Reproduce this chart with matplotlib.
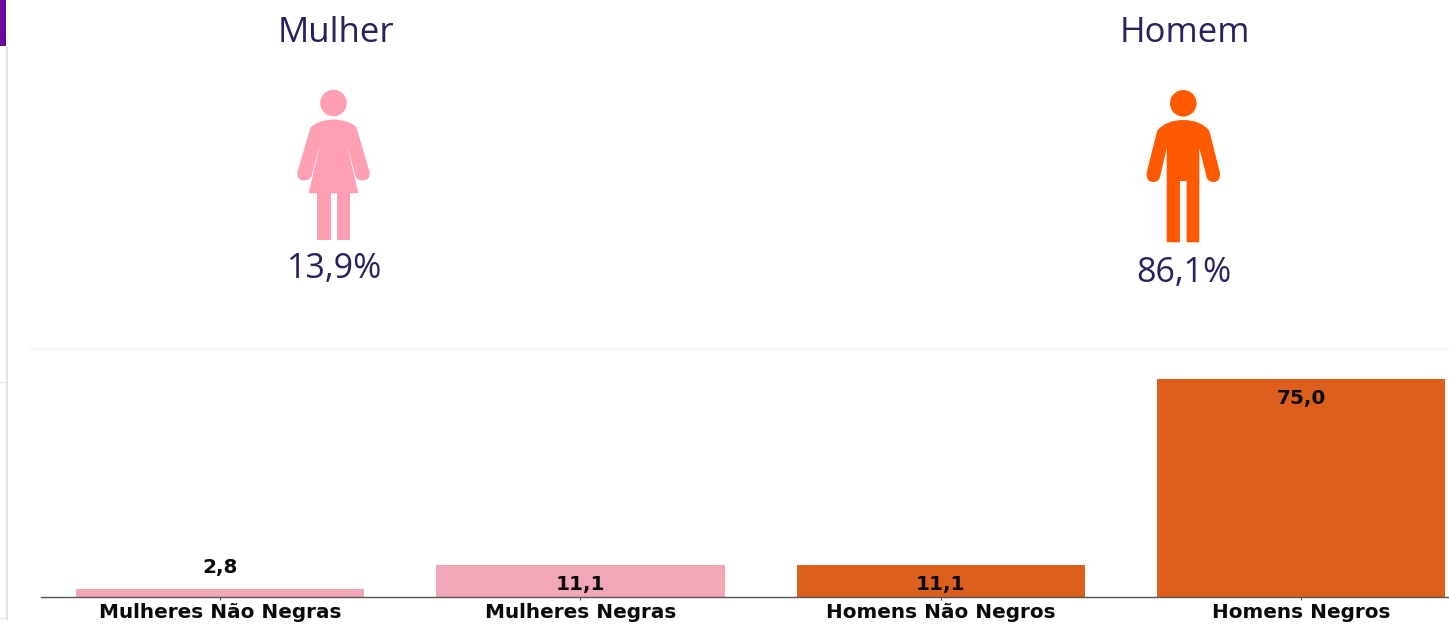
import matplotlib
matplotlib.use("Agg")
import matplotlib.pyplot as plt
from matplotlib.path import Path
from matplotlib.patches import PathPatch, Circle, Rectangle

W, H = 1449, 630

# dados
categorias = ["Mulheres Não Negras", "Mulheres Negras", "Homens Não Negros", "Homens Negros"]
valores = [2.8, 11.1, 11.1, 75.0]
cores_barras = ["#f2a7b8", "#f2a7b8", "#dc5f1e", "#dc5f1e"]
generos = ["Mulher", "Homem"]
percentuais = ["13,9%", "86,1%"]

ROXO = "#2d1f5c"
ROSA = "#ff9fb3"
LARANJA = "#ff5a00"

fig = plt.figure(figsize=(W / 100, H / 100), dpi=100, facecolor="white")

# camada de fundo em pixels: barra lateral, icones e textos de cima
bg = fig.add_axes([0, 0, 1, 1])
bg.set_xlim(0, W)
bg.set_ylim(H, 0)
bg.axis("off")

bg.add_patch(Rectangle((0, 0), 6, 46, color="#6a0a9c", lw=0))
bg.add_patch(Rectangle((6, 46), 1.6, 574, color="#e2e2e2", lw=0))
bg.add_patch(Rectangle((0, 382), 6, 1.4, color="#e2e2e2", lw=0))
bg.add_patch(Rectangle((0, 618), 6, 1.4, color="#e8e8e8", lw=0))
bg.add_patch(Rectangle((30, 348), W - 30, 3, color="#f8f8f8", lw=0))


def corpo(pontos):
    # pontos: (x, y, tipo), tipo "L" reta, "C" ponto de controle de curva
    verts = []
    codes = []
    for i, (x, y, t) in enumerate(pontos):
        verts.append((x, y))
        if i == 0:
            codes.append(Path.MOVETO)
        elif t == "C":
            codes.append(Path.CURVE3)
        elif pontos[i - 1][2] == "C":
            codes.append(Path.CURVE3)
        else:
            codes.append(Path.LINETO)
    verts.append(verts[0])
    codes.append(Path.CLOSEPOLY)
    return Path(verts, codes)


def mulher(cx, cor):
    # coordenadas relativas ao centro da figura, em pixels
    bg.add_patch(Circle((cx, 103), 13.3, color=cor, lw=0))
    pts = [(0, 119.5, "L"), (-16, 120, "C"), (-23, 127.5, "L"), (-36, 171.5, "L"),
           (-37.5, 180.5, "C"), (-29, 180.5, "L"), (-23.5, 180.5, "C"), (-22, 176, "L"),
           (-12.5, 141.5, "L"), (-25, 193.3, "L"), (25, 193.3, "L"), (12.5, 141.5, "L"),
           (22, 176, "L"), (23.5, 180.5, "C"), (29, 180.5, "L"), (37.5, 180.5, "C"),
           (36, 171.5, "L"), (23, 127.5, "L"), (16, 120, "C"), (0, 119.5, "L")]
    pts = [(cx + x, y, t) for x, y, t in pts]
    bg.add_patch(PathPatch(corpo(pts), fc=cor, ec="none"))
    bg.add_patch(Rectangle((cx - 16.3, 193), 13.3, 47, color=cor, lw=0))
    bg.add_patch(Rectangle((cx + 3.4, 193), 13.1, 47, color=cor, lw=0))


def homem(cx, cor):
    bg.add_patch(Circle((cx, 103.3), 13.3, color=cor, lw=0))
    pts = [(0, 120, "L"), (-17, 120, "C"), (-26, 130.5, "L"), (-36.5, 172, "L"),
           (-38, 182, "C"), (-30, 182, "L"), (-24, 182, "C"), (-23, 176, "L"),
           (-16.6, 148, "L"), (-16.6, 242.3, "L"), (-3.3, 242.3, "L"), (-3.3, 181, "L"),
           (3.3, 181, "L"), (3.3, 242.3, "L"), (16, 242.3, "L"), (16, 148, "L"),
           (23, 176, "L"), (24, 182, "C"), (30, 182, "L"), (38, 182, "C"),
           (36.5, 172, "L"), (26, 130.5, "L"), (17, 120, "C"), (0, 120, "L")]
    pts = [(cx + x, y, t) for x, y, t in pts]
    bg.add_patch(PathPatch(corpo(pts), fc=cor, ec="none"))


mulher(333.5, ROSA)
homem(1183.3, LARANJA)

for g, p, xt, xp, yp in zip(generos, percentuais, [336, 1185], [334.5, 1183.5], [278.5, 281.5]):
    bg.text(xt, 42, g, family="Open Sans", fontsize=25, color=ROXO, ha="center", va="baseline")
    bg.text(xp, yp, p, family="Open Sans", fontsize=24.5, color=ROXO, ha="center", va="baseline")

# grafico de barras
esq, dir_, topo, base = 41, 1449, 350, 597
ax = fig.add_axes([esq / W, 1 - base / H, (dir_ - esq) / W, (base - topo) / H])
ax.patch.set_alpha(0)

x = range(len(categorias))
ax.bar(x, valores, width=0.8, color=cores_barras)
ax.set_xlim((esq - 220) / 360.4, (dir_ - 220) / 360.4)
ax.set_ylim(0, (base - topo) / 2.907)

for i, v in zip(x, valores):
    # barra pequena demais leva o rotulo por cima
    desloc = 15.1 if v < 5 else -14.2
    ax.annotate(f"{v:.1f}".replace(".", ","), (i, v), xytext=(0, desloc),
                textcoords="offset points", ha="center", va="center",
                fontsize=14.4, family="DejaVu Sans", fontweight="bold", color="#0a0a0a")

ax.set_xticks(list(x))
ax.set_xticklabels(categorias, fontsize=14.4, family="DejaVu Sans", fontweight="bold", color="#0a0a0a")
ax.tick_params(axis="x", length=2.5, width=0.8, color="#555555", pad=2)
ax.set_yticks([])
for s in ["top", "left", "right"]:
    ax.spines[s].set_visible(False)
ax.spines["bottom"].set_color("#555555")
ax.spines["bottom"].set_linewidth(1.0)

fig.savefig("out.png", dpi=100)
